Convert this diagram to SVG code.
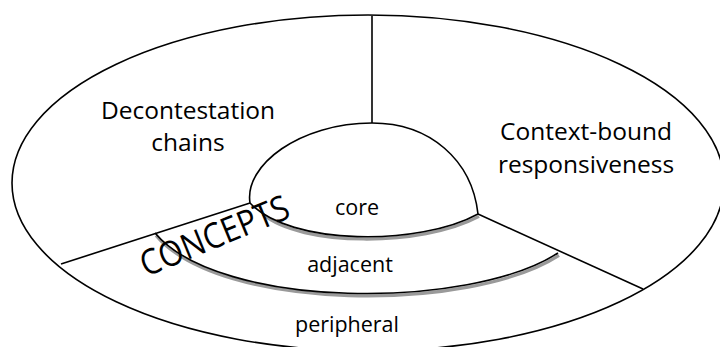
<svg xmlns="http://www.w3.org/2000/svg" width="720" height="347" viewBox="0 0 720 347">
  <style>
    .line { fill: none; stroke: #000; stroke-width: 1.6; stroke-linejoin: round; }
    .shadow { fill: none; stroke: #9a9a9a; stroke-width: 3.2; }
    .label { font-family: "Open Sans", "Liberation Sans", sans-serif; fill: #000; text-anchor: middle; }
    .big { font-size: 24.5px; }
    .ring { font-size: 21.5px; }
    .title { font-family: "Open Sans", "Liberation Sans", sans-serif; fill: #000; font-size: 35px; text-anchor: start; }
  </style>
  <rect width="720" height="347" fill="#fff"/>

  <!-- outer field -->
  <g id="field">
    <ellipse class="line" cx="368" cy="183" rx="356" ry="168" stroke-width="2"/>
  </g>

  <!-- dividing lines between sectors -->
  <g id="connectors">
    <line class="line" x1="372" y1="16" x2="372" y2="123"/>
    <line class="line" x1="61" y1="264" x2="250" y2="203"/>
    <line class="line" x1="478" y1="214" x2="643" y2="289"/>
  </g>

  <!-- core blob with shaded lower rim -->
  <g id="core">
    <path class="shadow" transform="translate(1,2.4)" d="M262,212 C300,244 420,245 478,214"/>
    <path class="line" d="M250,203 C244,165 300,123 372,123 C430,123 472,160 478,214"/>
    <path class="line" d="M250,203 C290,246 420,246 478,214"/>
    <text class="label ring" x="357" y="215">core</text>
  </g>

  <!-- adjacent ring -->
  <g id="adjacent">
    <path class="shadow" transform="translate(1,2.4)" d="M155,233 C220,310 470,310 558,253"/>
    <path class="line" d="M155,233 C220,310 470,310 558,253"/>
    <text class="label ring" x="350" y="272">adjacent</text>
  </g>

  <!-- peripheral ring -->
  <g id="peripheral">
    <text class="label ring" x="347" y="332">peripheral</text>
  </g>

  <g id="decontestation">
    <text class="label big" x="188" y="119">Decontestation</text>
    <text class="label big" x="188" y="151">chains</text>
  </g>

  <g id="context">
    <text class="label big" x="586" y="140">Context-bound</text>
    <text class="label big" x="586" y="173">responsiveness</text>
  </g>

  <g id="concepts">
    <text class="title" x="0" y="0" textLength="158" lengthAdjust="spacingAndGlyphs" transform="translate(146,277) rotate(-22.3)">CONCEPTS</text>
  </g>
</svg>
